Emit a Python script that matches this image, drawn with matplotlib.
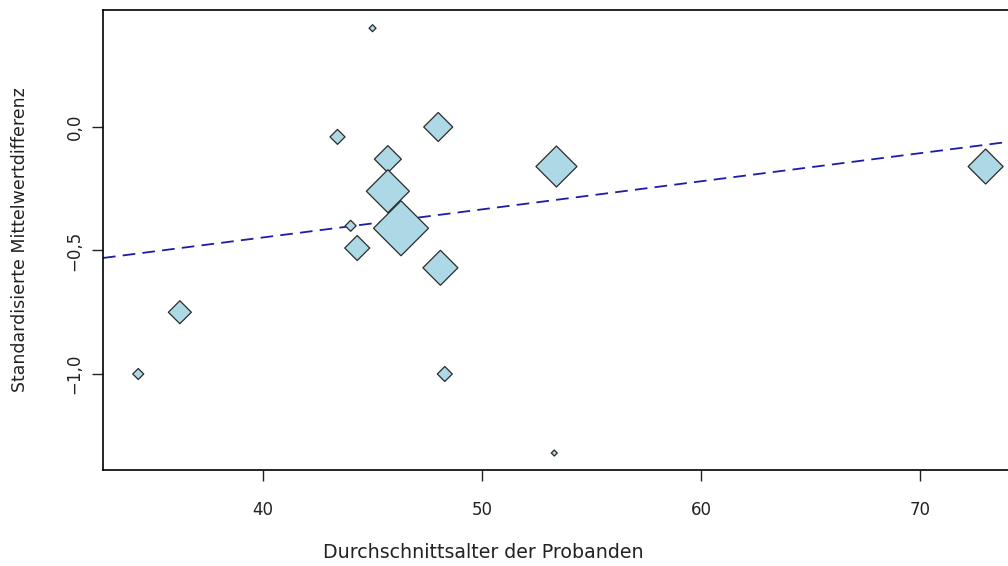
import matplotlib
matplotlib.use("Agg")
import matplotlib.pyplot as plt
import numpy as np

# Data: mean age (x), standardized mean difference (y), study weight (marker size)
age = [45.0, 43.4, 48.0, 45.7, 45.7, 46.3, 44.0, 44.3, 48.1, 53.4, 36.2, 34.3, 48.3, 53.3, 73.0]
smd = [0.40, -0.04, 0.00, -0.13, -0.26, -0.41, -0.40, -0.49, -0.57, -0.16, -0.75, -1.00, -1.00, -1.32, -0.16]
weight = [7, 15, 29, 27, 43, 55, 11, 25, 35, 41, 23, 11, 15, 6, 35]

# Meta-regression line
intercept = -0.902
slope = 0.01137

x_ticks = [40, 50, 60, 70]
x_tick_labels = ["40", "50", "60", "70"]
y_ticks = [-1.0, -0.5, 0.0]
y_tick_labels = ["\u22121,0", "\u22120,5", "0,0"]

W, H = 1008, 566
dpi = 100
plt.rcParams['font.family'] = ['DejaVu Sans']
fig = plt.figure(figsize=(W / dpi, H / dpi), dpi=dpi)

left, right, top, bottom = 103, 1020, 10, 470
ax = fig.add_axes([left / W, (H - bottom) / H, (right - left) / W, (bottom - top) / H])

ax.set_xlim(32.69, 74.57)
ax.set_ylim(-1.3887, 0.4737)

# marker width (px) -> scatter s (points^2); diamond diag = sqrt(2)*sqrt(s) pt
px_to_pt = 72.0 / dpi
sizes = [((w * px_to_pt) / np.sqrt(2)) ** 2 for w in weight]
ax.scatter(age, smd, s=sizes, marker='D', facecolor='#add8e6',
           edgecolor='#2b2b2b', linewidth=0.9, zorder=3)

ax.axline((0, intercept), slope=slope, color='#1c1ca8', linestyle=(0, (7, 4)),
          linewidth=1.3, zorder=2)

for s in ['top', 'bottom', 'left']:
    ax.spines[s].set_linewidth(1.2)
    ax.spines[s].set_color('black')
ax.spines['right'].set_visible(False)

ax.set_xticks(x_ticks)
ax.set_xticklabels(x_tick_labels)
ax.set_yticks(y_ticks)
ax.set_yticklabels(y_tick_labels, rotation=90, va='center')
ax.tick_params(axis='both', length=8, width=1.0, labelsize=12, direction='out',
               colors='#222222')
ax.tick_params(axis='x', pad=14)
ax.tick_params(axis='y', pad=6)

fig.text(483 / W, 1 - 552 / H, "Durchschnittsalter der Probanden", ha='center', va='center',
         fontsize=13.7, color='#222222')
fig.text(20 / W, 1 - 240 / H, "Standardisierte Mittelwertdifferenz", ha='center', va='center',
         rotation=90, fontsize=12.5, color='#222222')

fig.savefig("out.png", dpi=dpi)
